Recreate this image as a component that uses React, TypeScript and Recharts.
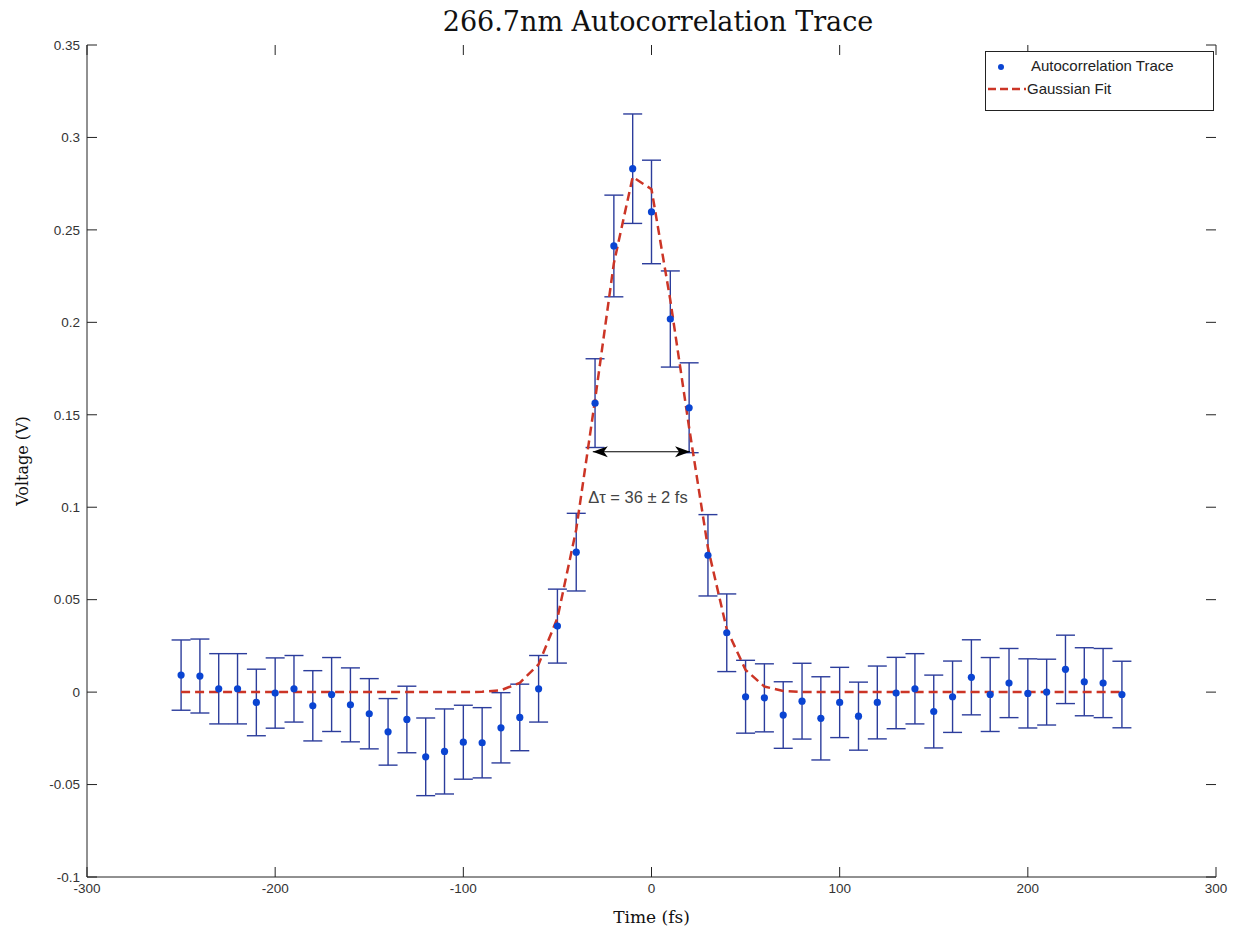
import React from 'react';
import {
  ComposedChart,
  Scatter,
  Line,
  XAxis,
  YAxis,
  ErrorBar,
  ReferenceLine,
  ReferenceDot,
} from 'recharts';

// delay times (fs)
const times = [
  -250, -240, -230, -220, -210, -200, -190, -180, -170, -160, -150, -140, -130,
  -120, -110, -100, -90, -80, -70, -60, -50, -40, -30, -20, -10, 0, 10, 20, 30,
  40, 50, 60, 70, 80, 90, 100, 110, 120, 130, 140, 150, 160, 170, 180, 190, 200,
  210, 220, 230, 240, 250,
];

// measured autocorrelation voltage (V)
const voltage = [
  0.0092, 0.0087, 0.0018, 0.0018, -0.0056, -0.0005, 0.0018, -0.0074, -0.0013,
  -0.0069, -0.0117, -0.0215, -0.0148, -0.035, -0.0321, -0.0271, -0.0274,
  -0.0193, -0.0137, 0.0018, 0.0357, 0.0757, 0.1563, 0.2413, 0.2831, 0.2597,
  0.2018, 0.1538, 0.074, 0.0321, -0.0025, -0.0031, -0.0124, -0.0049, -0.0142,
  -0.0056, -0.013, -0.0056, -0.0005, 0.0018, -0.0105, -0.0025, 0.008, -0.0013,
  0.0049, -0.0007, 0.0, 0.0123, 0.0056, 0.0049, -0.0013,
];

// error bar half-heights (V)
const voltErr = [
  0.019, 0.02, 0.019, 0.019, 0.018, 0.019, 0.018, 0.019, 0.02, 0.02, 0.019,
  0.018, 0.018, 0.021, 0.023, 0.02, 0.019, 0.019, 0.018, 0.018, 0.02, 0.021,
  0.024, 0.0275, 0.0296, 0.028, 0.026, 0.0243, 0.022, 0.021, 0.0197, 0.0184,
  0.018, 0.0205, 0.0225, 0.019, 0.0184, 0.0197, 0.0193, 0.019, 0.0197, 0.0193,
  0.0203, 0.02, 0.0187, 0.0187, 0.0178, 0.0185, 0.0184, 0.0187, 0.018,
];

// gaussian fit (V)
const gaussFit = [
  0, 0, 0, 0, 0, 0, 0, 0, 0, 0, 0, 0, 0, 0, 0, 0, 0.0002, 0.001, 0.005, 0.015,
  0.04, 0.088, 0.158, 0.232, 0.2786, 0.272, 0.212, 0.143, 0.078, 0.034, 0.012,
  0.003, 0.0006, 0, 0, 0, 0, 0, 0, 0, 0, 0, 0, 0, 0, 0, 0, 0, 0, 0, 0,
];

const xTicks = [-300, -200, -100, 0, 100, 200, 300];
const yTicks = [-0.1, -0.05, 0, 0.05, 0.1, 0.15, 0.2, 0.25, 0.3, 0.35];

// FWHM marker
const fwhmLeft = -31.2;
const fwhmRight = 20.5;
const fwhmLevel = 0.13;
const fwhmText = 'Δτ = 36 ± 2 fs';

const rows = times.map((t, i) => ({
  t,
  v: voltage[i],
  err: voltErr[i],
  fit: gaussFit[i],
}));

const serif = '"DejaVu Serif", "Liberation Serif", serif';
const sans = '"Liberation Sans", Arial, sans-serif';
const dotColor = '#0a44d2';
const barColor = '#2c3d9c';
const fitColor = '#cc3526';
const axisColor = '#222';

// layout
const W = 1237;
const H = 927;
const M = { top: 45, right: 21, bottom: 0, left: 27 };
const Y_AXIS_W = 60;
const X_AXIS_H = 50;
const PLOT_TOP = M.top;
const PLOT_BOTTOM = H - M.bottom - X_AXIS_H;
const PLOT_LEFT = M.left + Y_AXIS_W;
const PLOT_RIGHT = W - M.right;
const TICK = 10; // inward tick length
const GAP = 6; // label gap from axis

const fmtY = (v: number) => String(Number(v.toFixed(2)));

// ticks drawn inward on both sides of the box, matlab style
const BottomTick = (props: any) => {
  const { x, y, payload } = props;
  return (
    <g>
      <line x1={x} y1={PLOT_BOTTOM} x2={x} y2={PLOT_BOTTOM - TICK} stroke={axisColor} />
      <line x1={x} y1={PLOT_TOP} x2={x} y2={PLOT_TOP + TICK} stroke={axisColor} />
      <text x={x} y={y} dy="0.71em" textAnchor="middle" fontFamily={sans} fontSize={13.5} fill="#333">
        {payload.value}
      </text>
    </g>
  );
};

const LeftTick = (props: any) => {
  const { x, y, payload } = props;
  return (
    <g>
      <line x1={PLOT_LEFT} y1={y} x2={PLOT_LEFT + TICK} y2={y} stroke={axisColor} />
      <line x1={PLOT_RIGHT} y1={y} x2={PLOT_RIGHT - TICK} y2={y} stroke={axisColor} />
      <text x={x - 1} y={y} dy="0.35em" textAnchor="end" fontFamily={sans} fontSize={13.5} fill="#333">
        {fmtY(payload.value)}
      </text>
    </g>
  );
};

const Dot = (props: any) => (
  <circle cx={props.cx} cy={props.cy} r={3.6} fill={dotColor} />
);

const ArrowLeft = (props: any) => {
  const { cx, cy } = props;
  return (
    <path
      d={`M${cx},${cy} L${cx + 15},${cy - 5.5} L${cx + 11},${cy} L${cx + 15},${cy + 5.5} Z`}
      fill="#000"
    />
  );
};

const ArrowRight = (props: any) => {
  const { cx, cy } = props;
  return (
    <path
      d={`M${cx},${cy} L${cx - 15},${cy - 5.5} L${cx - 11},${cy} L${cx - 15},${cy + 5.5} Z`}
      fill="#000"
    />
  );
};

const FwhmLabel = (props: any) => (
  <text
    x={props.cx}
    y={props.cy}
    textAnchor="middle"
    dominantBaseline="central"
    fontFamily={sans}
    fontSize={16.5}
    fill="#444"
  >
    {fwhmText}
  </text>
);

const YLabel = (props: any) => {
  const vb = props.viewBox;
  const x = vb.x - 5;
  const y = vb.y + vb.height / 2;
  return (
    <text
      x={x}
      y={y}
      transform={`rotate(-90, ${x}, ${y})`}
      textAnchor="middle"
      dominantBaseline="central"
      fontFamily={serif}
      fontSize={16}
      fill="#111"
    >
      Voltage (V)
    </text>
  );
};

const Legend = () => (
  <div
    style={{
      position: 'absolute',
      left: 985,
      top: 51,
      width: 227,
      height: 58,
      border: '1px solid #222',
      background: '#fff',
      fontFamily: sans,
      fontSize: 15,
      color: '#222',
    }}
  >
    <svg width={44} height={58} style={{ position: 'absolute', left: 0, top: 0 }}>
      <circle cx={15} cy={15} r={3} fill={dotColor} />
      <line x1={2} y1={37} x2={40} y2={37} stroke={fitColor} strokeWidth={2.5} strokeDasharray="8 4" />
    </svg>
    <div style={{ position: 'absolute', left: 45, top: 5 }}>Autocorrelation Trace</div>
    <div style={{ position: 'absolute', left: 41, top: 28 }}>Gaussian Fit</div>
  </div>
);

export default function App() {
  return (
    <div
      style={{
        position: 'absolute',
        left: 0,
        top: 0,
        width: W,
        height: H,
        background: '#fff',
      }}
    >
      <div
        style={{
          position: 'absolute',
          left: 0,
          width: 1316,
          top: 6,
          textAlign: 'center',
          fontFamily: serif,
          fontSize: 27,
          color: '#111',
        }}
      >
        266.7nm Autocorrelation Trace
      </div>
      <ComposedChart width={W} height={H} data={rows} margin={M}>
        <XAxis
          dataKey="t"
          type="number"
          domain={[-300, 300]}
          ticks={xTicks}
          allowDataOverflow
          height={X_AXIS_H}
          tickSize={0}
          tickLine={false}
          tickMargin={GAP}
          stroke={axisColor}
          tick={<BottomTick />}
          label={{
            value: 'Time (fs)',
            position: 'insideBottom',
            offset: 4,
            fontFamily: serif,
            fontSize: 17,
            fill: '#111',
          }}
        />
        <XAxis
          xAxisId="top"
          orientation="top"
          type="number"
          domain={[-300, 300]}
          ticks={xTicks}
          allowDataOverflow
          height={0}
          tickLine={false}
          tick={false}
          stroke={axisColor}
        />
        <YAxis
          type="number"
          domain={[-0.1, 0.35]}
          ticks={yTicks}
          allowDataOverflow
          width={Y_AXIS_W}
          tickSize={0}
          tickLine={false}
          tickMargin={GAP}
          stroke={axisColor}
          tick={<LeftTick />}
          label={<YLabel />}
        />
        <YAxis
          yAxisId="right"
          orientation="right"
          type="number"
          domain={[-0.1, 0.35]}
          ticks={yTicks}
          allowDataOverflow
          width={0}
          tickLine={false}
          tick={false}
          stroke={axisColor}
        />
        <Scatter dataKey="v" shape={<Dot />} isAnimationActive={false}>
          <ErrorBar
            dataKey="err"
            direction="y"
            width={9.5}
            stroke={barColor}
            strokeWidth={1.4}
            isAnimationActive={false}
          />
        </Scatter>
        <Line
          type="linear"
          dataKey="fit"
          stroke={fitColor}
          strokeWidth={2.5}
          strokeDasharray="9 5"
          dot={false}
          activeDot={false}
          isAnimationActive={false}
        />
        <ReferenceLine
          segment={[
            { x: fwhmLeft, y: fwhmLevel },
            { x: fwhmRight, y: fwhmLevel },
          ]}
          stroke="#000"
          strokeWidth={1.2}
        />
        <ReferenceDot x={fwhmLeft} y={fwhmLevel} shape={<ArrowLeft />} />
        <ReferenceDot x={fwhmRight} y={fwhmLevel} shape={<ArrowRight />} />
        <ReferenceDot x={-7.2} y={0.1055} shape={<FwhmLabel />} />
      </ComposedChart>
      <Legend />
    </div>
  );
}
